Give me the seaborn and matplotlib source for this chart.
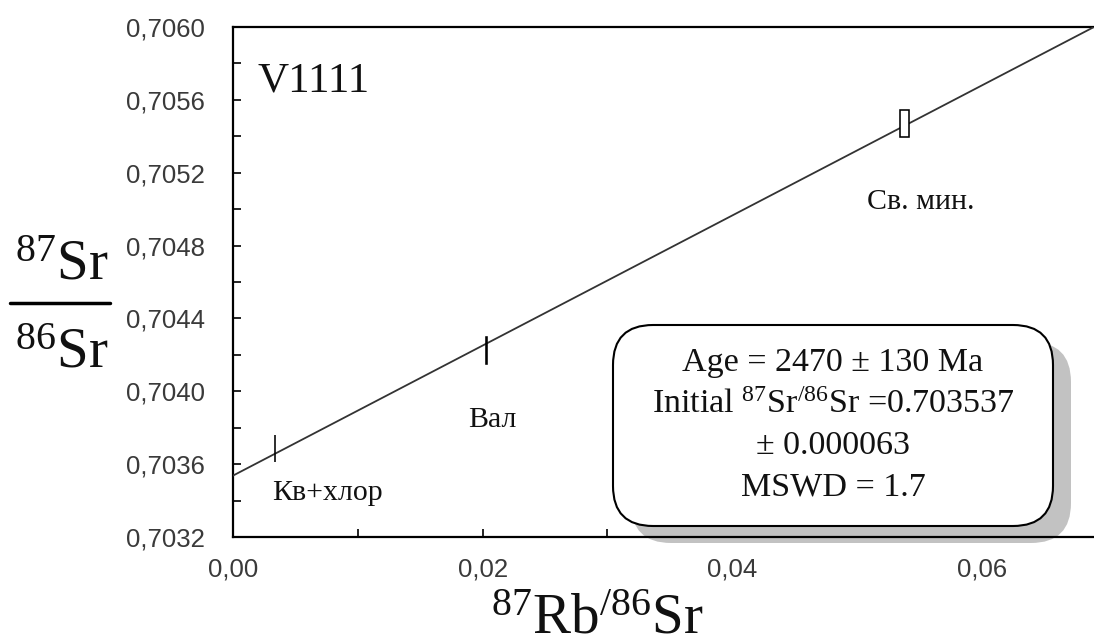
import numpy as np
import pandas as pd
import matplotlib
matplotlib.use("Agg")
import matplotlib.pyplot as plt
from matplotlib.patches import Rectangle, FancyBboxPatch
from matplotlib.lines import Line2D
import seaborn as sns

# --- Rb-Sr isochron data, sample V1111 ---
samples = ["Кв+хлор", "Вал", "Св. мин."]
rb86 = [0.00335, 0.02032, 0.05379]          # 87Rb/86Sr
sr86 = [0.703684, 0.704224, 0.705470]       # 87Sr/86Sr
rb86_err = [0.0, 0.00004, 0.00036]
sr86_err = [0.000074, 0.000076, 0.000074]

age_ma = 2470
age_err_ma = 130
initial_ratio = 0.703537
initial_err = 0.000063
mswd = 1.7
decay_const = 1.42e-11  # 87Rb, 1/yr

x_major = [0.00, 0.02, 0.04, 0.06]
x_minor = [0.01, 0.03, 0.05]
y_major = [0.7032, 0.7036, 0.7040, 0.7044, 0.7048, 0.7052, 0.7056, 0.7060]
y_minor = [0.7034, 0.7038, 0.7042, 0.7046, 0.7050, 0.7054, 0.7058]
x_labels = ["0,00", "0,02", "0,04", "0,06"]
y_labels = ["0,7032", "0,7036", "0,7040", "0,7044", "0,7048", "0,7052", "0,7056", "0,7060"]

sns.set_style("white")
plt.rcParams["font.family"] = ["Liberation Serif", "DejaVu Serif"]
plt.rcParams["mathtext.fontset"] = "custom"
plt.rcParams["mathtext.rm"] = "Liberation Serif"
plt.rcParams["mathtext.it"] = "Liberation Serif:italic"

W, H = 1094, 642
fig = plt.figure(figsize=(W / 100, H / 100), dpi=100)
fig.patch.set_facecolor("white")

def px(x, y):
    """figure fraction from pixel position measured from top-left"""
    return x / W, 1 - y / H

ax_left, ax_top, ax_bottom = 233, 27, 537
ax = fig.add_axes([ax_left / W, 1 - ax_bottom / H, 1 - ax_left / W, (ax_bottom - ax_top) / H])
ax.set_facecolor("white")
xmin, xmax = 0.0, 0.069
ax.set_xlim(xmin, xmax)
ax.set_ylim(0.7032, 0.7060)

# isochron line from age and initial ratio
slope = np.exp(decay_const * age_ma * 1e6) - 1
line_df = pd.DataFrame({"x": [xmin, xmax]})
line_df["y"] = initial_ratio + slope * line_df["x"]
sns.lineplot(data=line_df, x="x", y="y", ax=ax, color="#333333", lw=1.3, zorder=3)

# error boxes
for x, y, ex, ey in zip(rb86, sr86, rb86_err, sr86_err):
    ax.add_patch(Rectangle((x - ex, y - ey), 2 * ex, 2 * ey,
                           facecolor="white", edgecolor="black", lw=1.15, zorder=4))

# sample labels
offsets = [(-2.2, -32, "left"), (4.5, -50, "center"), (12, -56.5, "center")]
for name, x, y, (dx, dy, ha) in zip(samples, rb86, sr86, offsets):
    ax.annotate(name, (x, y), xytext=(dx, dy), textcoords="offset points",
                ha=ha, va="center", fontsize=21.5, color="#111111")

ax.text((258 - ax_left) / (W - ax_left), (ax_bottom - 81) / (ax_bottom - ax_top), "V1111",
        transform=ax.transAxes, fontsize=31, ha="left", va="center", color="#111111")

# axes styling
for side in ["left", "top", "bottom"]:
    ax.spines[side].set_visible(True)
    ax.spines[side].set_color("black")
    ax.spines[side].set_linewidth(1.6)
ax.spines["right"].set_visible(False)

ax.set_xticks(x_major)
ax.set_xticks(x_minor, minor=True)
ax.set_yticks(y_major)
ax.set_yticks(y_minor, minor=True)
ax.set_xticklabels(x_labels)
ax.set_yticklabels(y_labels)
ax.tick_params(axis="both", which="both", direction="in", length=6, width=1.2,
               color="black", top=False, right=False, left=True, bottom=True)
ax.tick_params(axis="y", which="major", pad=20)
ax.tick_params(axis="x", which="major", pad=15)
for lab in ax.get_xticklabels() + ax.get_yticklabels():
    lab.set_fontfamily(["Liberation Sans", "DejaVu Sans"])
    lab.set_fontsize(18.5)
    lab.set_color("#3a3a3a")
ax.set_xlabel("")
ax.set_ylabel("")

# results box with drop shadow
inch = fig.dpi_scale_trans
bx0, bx1, by_top, by_bot = 613, 1053, 325, 526
bw, bh = (bx1 - bx0) / 100, (by_bot - by_top) / 100
bx, by = bx0 / 100, (H - by_bot) / 100
shadow = FancyBboxPatch((bx + 0.18, by - 0.17), bw, bh,
                        boxstyle="round,pad=0,rounding_size=0.4",
                        transform=inch, facecolor="#c2c2c2", edgecolor="none",
                        zorder=1.5, clip_on=False)
box = FancyBboxPatch((bx, by), bw, bh,
                     boxstyle="round,pad=0,rounding_size=0.4",
                     transform=inch, facecolor="white", edgecolor="black",
                     lw=1.5, zorder=5, clip_on=False)
ax.add_patch(shadow)
ax.add_patch(box)

box_lines = [
    f"Age = {age_ma} ± {age_err_ma} Ma",
    f"Initial $^{{87}}$Sr$^{{/86}}$Sr =" + f"{initial_ratio:.6f}",
    f"± {initial_err:.6f}",
    f"MSWD = {mswd}",
]
cx = (bx0 + bx1) / 2
for i, t in enumerate(box_lines):
    yy = 363 + 41.5 * i
    fig.text(*px(cx, yy), t, ha="center", va="center", fontsize=24.5,
             color="#111111", zorder=6)

# axis titles
fig.text(*px(62, 279), "$^{87}$Sr", ha="center", va="baseline", fontsize=41, color="#111111")
fig.add_artist(Line2D([10 / W, 110 / W], [1 - 303 / H, 1 - 303 / H],
                      transform=fig.transFigure, color="black", lw=2.5))
fig.text(*px(62, 367), "$^{86}$Sr", ha="center", va="baseline", fontsize=41, color="#111111")
fig.text(*px(597, 634), "$^{87}$Rb$^{/86}$Sr", ha="center", va="baseline",
         fontsize=41, color="#111111")

fig.savefig("out.png", dpi=100, facecolor="white")
